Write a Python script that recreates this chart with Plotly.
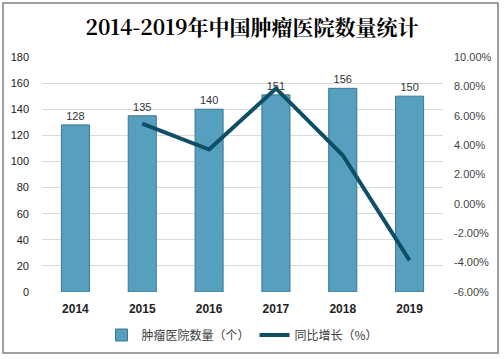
import plotly.graph_objects as go

years = ["2014", "2015", "2016", "2017", "2018", "2019"]
hospitals = [128, 135, 140, 151, 156, 150]
growth_years = ["2015", "2016", "2017", "2018", "2019"]
growth = [5.47, 3.70, 7.86, 3.31, -3.85]
left_ticks = [0, 20, 40, 60, 80, 100, 120, 140, 160, 180]
right_ticks = [-6, -4, -2, 0, 2, 4, 6, 8, 10]

L, R, T, B = 42, 443, 57, 292
W, H = 504, 359

fig = go.Figure()
fig.add_trace(go.Bar(
    x=years, y=hospitals, name="肿瘤医院数量（个）",
    marker=dict(color="#579fbe", line=dict(color="#3d7890", width=1)),
    width=0.42,
    text=[str(v) for v in hospitals], textposition="outside",
    textfont=dict(size=11, color="#333333", family="Liberation Sans, Arial"),
    cliponaxis=False,
))
fig.add_trace(go.Scatter(
    x=growth_years, y=growth, name="同比增长（%）", yaxis="y2",
    mode="lines", line=dict(color="#0e4f66", width=4),
))

fig.update_layout(
    width=W, height=H,
    margin=dict(l=L, r=W - R, t=T, b=H - B, autoexpand=False),
    paper_bgcolor="white", plot_bgcolor="white",
    title=dict(text="<b>2014-2019年中国肿瘤医院数量统计</b>", x=0.5, xanchor="center",
               y=1 - 28 / H, yanchor="middle",
               font=dict(size=21, color="#000000", family="Noto Serif CJK SC, Liberation Serif, serif")),
    xaxis=dict(type="category", automargin=False,
               tickfont=dict(size=12, color="#222222", family="Liberation Sans, Arial"),
               showgrid=False, showline=False, ticks="", ticklabelstandoff=8,
               tickprefix="<b>", ticksuffix="</b>"),
    yaxis=dict(range=[0, 180], tickvals=left_ticks, showgrid=True, gridcolor="#d9d9d9",
               automargin=False, zeroline=False, tickprefix="<b>", ticksuffix="</b>",
               ticklabelstandoff=12,
               tickfont=dict(size=11, color="#222222", family="Liberation Sans, Arial")),
    yaxis2=dict(range=[-6, 10], tickvals=right_ticks, overlaying="y", side="right",
                automargin=False, showgrid=False, zeroline=False, ticklabelstandoff=10,
                ticktext=[f"{v:.2f}%" for v in right_ticks],
                tickfont=dict(size=11, color="#444444", family="Liberation Sans, Arial")),
    legend=dict(orientation="h", x=0.5, xanchor="center", y=-(335 - B) / (B - T), yanchor="middle",
                font=dict(size=12, color="#404040", family="Noto Sans CJK SC"),
                traceorder="normal"),
    bargap=0.58,
    showlegend=True,
)

fig.add_shape(type="rect", xref="paper", yref="paper",
              x0=(3 - L) / (R - L), x1=(498 - L) / (R - L),
              y0=(B - 353) / (B - T), y1=(B - 3) / (B - T),
              line=dict(color="#808080", width=1.5), layer="below")

fig.write_html("out.html", config={"displayModeBar": False},
               post_script="document.body.style.margin='0';document.body.style.overflow='hidden';")
